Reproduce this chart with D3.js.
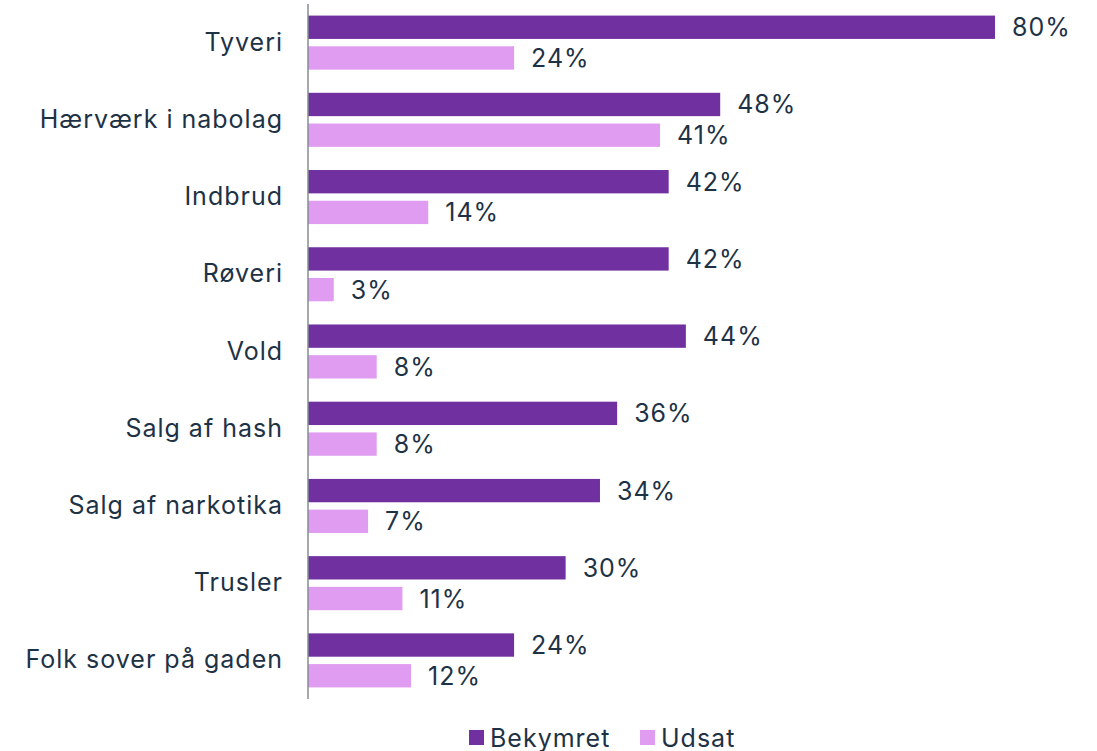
<!DOCTYPE html>
<html>
<head>
<meta charset="utf-8">
<script src="https://cdn.jsdelivr.net/npm/d3@7/dist/d3.min.js"></script>
<style>
  html, body { margin: 0; padding: 0; background: #ffffff; }
  svg { display: block; }
  text { font-family: Inter, "Open Sans", sans-serif; fill: #1e3246; letter-spacing: 1px; }
</style>
</head>
<body>
<svg id="chart" width="1097" height="751"></svg>
<script>
// Crime categories and the two response series (percent)
const categories = ["Tyveri", "Hærværk i nabolag", "Indbrud", "Røveri", "Vold",
                    "Salg af hash", "Salg af narkotika", "Trusler", "Folk sover på gaden"];
const seriesNames = ["Bekymret", "Udsat"];
const bekymret = [80, 48, 42, 42, 44, 36, 34, 30, 24];
const udsat    = [24, 41, 14, 3, 8, 8, 7, 11, 12];

const colors = { Bekymret: "#7030a0", Udsat: "#e09cf0" };
const fontSize = 25;

const svg = d3.select("#chart");
const axisX = 308;
const plotTop = 4, plotBottom = 699;

const x = d3.scaleLinear().domain([0, 80]).range([axisX, 995]);

const y = d3.scaleBand()
  .domain(categories)
  .range([plotTop, plotBottom])
  .paddingInner(0.3)
  .paddingOuter(0.15);

const ySub = d3.scaleBand()
  .domain(seriesNames)
  .range([0, y.bandwidth()])
  .paddingInner(0.24);

const rows = categories.map((c, i) => ({
  category: c,
  values: [
    { key: "Bekymret", value: bekymret[i] },
    { key: "Udsat", value: udsat[i] }
  ]
}));

const groups = svg.append("g").selectAll("g")
  .data(rows)
  .join("g")
  .attr("transform", d => `translate(0,${y(d.category)})`);

groups.selectAll("rect")
  .data(d => d.values)
  .join("rect")
  .attr("x", x(0))
  .attr("y", d => ySub(d.key))
  .attr("width", d => x(d.value) - x(0))
  .attr("height", ySub.bandwidth())
  .attr("fill", d => colors[d.key]);

groups.selectAll("text.value")
  .data(d => d.values)
  .join("text")
  .attr("class", "value")
  .attr("x", d => x(d.value) + 17)
  .attr("y", d => ySub(d.key) + ySub.bandwidth() / 2)
  .attr("dy", "0.36em")
  .attr("font-size", fontSize)
  .text(d => d.value + "%");

// Category axis on the left
const yAxis = d3.axisLeft(y).tickSize(0).tickPadding(25);
const axisG = svg.append("g")
  .attr("transform", `translate(${axisX},0)`)
  .call(yAxis);
axisG.select(".domain").attr("stroke", "#858c94").attr("stroke-width", 1.5)
  .attr("d", `M0,${plotTop}V${plotBottom}`);
axisG.selectAll(".tick text")
  .attr("font-size", fontSize)
  .attr("font-family", "Inter, 'Open Sans', sans-serif")
  .attr("fill", "#1e3246");

// Legend
const legendItems = [
  { key: "Bekymret", sx: 469, tx: 490 },
  { key: "Udsat", sx: 640, tx: 661 }
];
const legend = svg.append("g");
legend.selectAll("rect")
  .data(legendItems)
  .join("rect")
  .attr("x", d => d.sx)
  .attr("y", 730)
  .attr("width", 15)
  .attr("height", 15)
  .attr("fill", d => colors[d.key]);
legend.selectAll("text")
  .data(legendItems)
  .join("text")
  .attr("x", d => d.tx)
  .attr("y", 737.5)
  .attr("dy", "0.36em")
  .attr("font-size", fontSize)
  .text(d => d.key);
</script>
</body>
</html>
